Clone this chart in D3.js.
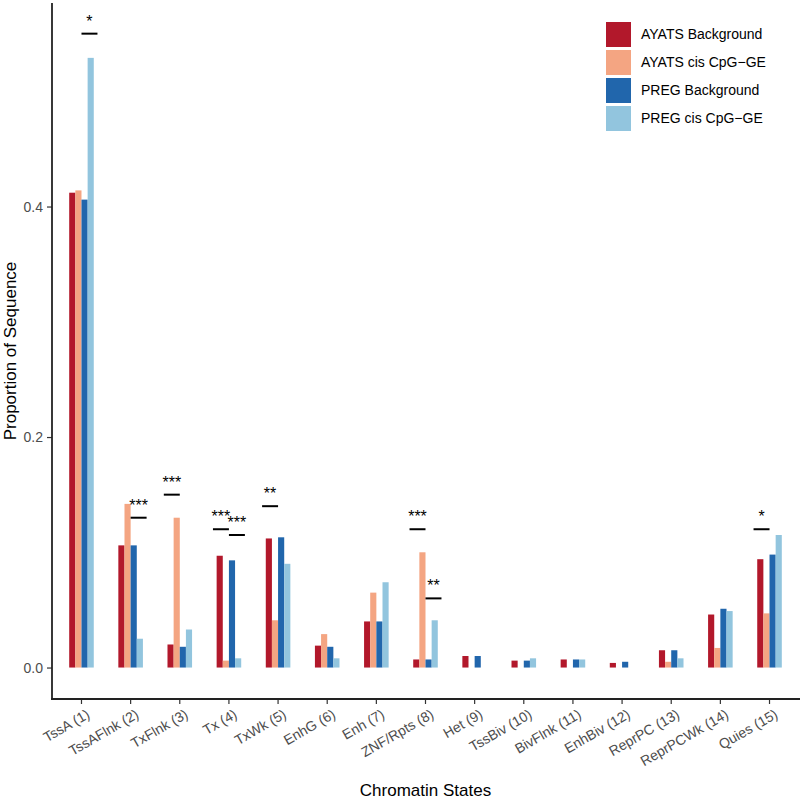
<!DOCTYPE html>
<html>
<head>
<meta charset="utf-8">
<script src="https://cdn.jsdelivr.net/npm/d3@7/dist/d3.min.js"></script>
<style>
  html, body { margin: 0; padding: 0; background: #fff; }
  svg { display: block; font-family: "Liberation Sans", Arial, Helvetica, sans-serif; }
</style>
</head>
<body>
<svg id="chart" width="800" height="800"></svg>
<script>
// ---- data ----
const categories = ["TssA (1)", "TssAFlnk (2)", "TxFlnk (3)", "Tx (4)", "TxWk (5)", "EnhG (6)", "Enh (7)",
  "ZNF/Rpts (8)", "Het (9)", "TssBiv (10)", "BivFlnk (11)", "EnhBiv (12)", "ReprPC (13)", "ReprPCWk (14)", "Quies (15)"];
const seriesNames = ["AYATS Background", "AYATS cis CpG\u2212GE", "PREG Background", "PREG cis CpG\u2212GE"];
const seriesColors = ["#B2182B", "#F4A582", "#2166AC", "#92C5DE"];
const ayatsBackground = [0.412, 0.106, 0.020, 0.097, 0.112, 0.019, 0.040, 0.007, 0.010, 0.006, 0.007, 0.004, 0.015, 0.046, 0.094];
const ayatsCis        = [0.414, 0.142, 0.130, 0.006, 0.041, 0.029, 0.065, 0.100, 0.000, 0.000, 0.000, 0.000, 0.005, 0.017, 0.047];
const pregBackground  = [0.406, 0.106, 0.018, 0.093, 0.113, 0.018, 0.040, 0.007, 0.010, 0.006, 0.007, 0.005, 0.015, 0.051, 0.098];
const pregCis         = [0.529, 0.025, 0.033, 0.008, 0.090, 0.008, 0.074, 0.041, 0.000, 0.008, 0.007, 0.000, 0.008, 0.049, 0.115];
const seriesValues = [ayatsBackground, ayatsCis, pregBackground, pregCis];
const yTicks = [0.0, 0.2, 0.4];
// significance annotations: category, comparison group, y level, label
const sigCategory = ["TssA (1)", "TssAFlnk (2)", "TxFlnk (3)", "Tx (4)", "Tx (4)", "TxWk (5)", "ZNF/Rpts (8)", "ZNF/Rpts (8)", "Quies (15)"];
const sigGroup    = ["PREG", "PREG", "AYATS", "AYATS", "PREG", "AYATS", "AYATS", "PREG", "AYATS"];
const sigLevel    = [0.550, 0.130, 0.150, 0.120, 0.115, 0.140, 0.120, 0.060, 0.120];
const sigLabel    = ["*", "***", "***", "***", "***", "**", "***", "**", "*"];

// ---- layout ----
const svg = d3.select("#chart");
const mLeft = 52, mRight = 799, mTop = 3, mBottom = 699;

const x = d3.scaleBand().domain(categories).range([mLeft, mRight]).paddingInner(0).paddingOuter(0.1);
const y = d3.scaleLinear().domain([-0.0273, 0.5766]).range([mBottom, mTop]);
const dodge = x.bandwidth() * 0.5;
const sub = d3.scaleBand().domain(d3.range(seriesNames.length)).range([-dodge / 2, dodge / 2]);

// bars
const barData = [];
categories.forEach((c, ci) => {
  seriesValues.forEach((vals, si) => {
    if (vals[ci] > 0) barData.push({ c, si, v: vals[ci] });
  });
});
svg.append("g").selectAll("rect").data(barData).join("rect")
  .attr("x", d => x(d.c) + x.bandwidth() / 2 + sub(d.si))
  .attr("width", sub.bandwidth())
  .attr("y", d => y(d.v))
  .attr("height", d => y(0) - y(d.v))
  .attr("fill", d => seriesColors[d.si]);

// significance
const sig = svg.append("g");
sigCategory.forEach((c, i) => {
  const cx = x(c) + x.bandwidth() / 2;
  const half = x.bandwidth() * 0.325;
  const x0 = sigGroup[i] === "AYATS" ? cx - half : cx;
  const x1 = sigGroup[i] === "AYATS" ? cx : cx + half;
  const yy = y(sigLevel[i]);
  sig.append("line").attr("x1", x0).attr("x2", x1).attr("y1", yy).attr("y2", yy)
    .attr("stroke", "#000").attr("stroke-width", 2);
  sig.append("text").attr("x", (x0 + x1) / 2).attr("y", yy - 7)
    .attr("text-anchor", "middle").attr("font-size", 16).attr("fill", "#000")
    .text(sigLabel[i]);
});

// y axis
const yAxis = svg.append("g").attr("transform", `translate(${mLeft},0)`)
  .call(d3.axisLeft(y).tickValues(yTicks).tickFormat(d3.format(".1f")).tickSize(5).tickPadding(4));
yAxis.select(".domain").remove();
yAxis.selectAll(".tick line").attr("stroke", "#333").attr("stroke-width", 1.2);
yAxis.selectAll(".tick text").attr("fill", "#4D4D4D").attr("font-size", 14)
  .style("font-family", "'Liberation Sans', Arial, sans-serif");

// x axis
const xAxis = svg.append("g").attr("transform", `translate(0,${mBottom})`)
  .call(d3.axisBottom(x).tickSize(5).tickPadding(4));
xAxis.select(".domain").remove();
xAxis.selectAll(".tick line").attr("stroke", "#333").attr("stroke-width", 1.2);
xAxis.selectAll(".tick text")
  .attr("fill", "#4D4D4D").attr("font-size", 14)
  .style("font-family", "'Liberation Sans', Arial, sans-serif")
  .attr("text-anchor", "end")
  .attr("x", 4).attr("y", 9).attr("dy", "0.75em")
  .attr("transform", "rotate(-30, 4, 9)");

// axis lines
svg.append("line").attr("x1", mLeft).attr("x2", mLeft).attr("y1", mTop).attr("y2", mBottom + 1)
  .attr("stroke", "#222").attr("stroke-width", 1.8);
svg.append("line").attr("x1", mLeft - 1).attr("x2", mRight + 1).attr("y1", mBottom).attr("y2", mBottom)
  .attr("stroke", "#222").attr("stroke-width", 1.8);

// titles
svg.append("text").attr("transform", `translate(15.5,${(mTop + mBottom) / 2}) rotate(-90)`)
  .attr("text-anchor", "middle").attr("font-size", 17).attr("fill", "#000").text("Proportion of Sequence");
svg.append("text").attr("x", (mLeft + mRight) / 2).attr("y", 796)
  .attr("text-anchor", "middle").attr("font-size", 17).attr("fill", "#000").text("Chromatin States");

// legend
const legend = svg.append("g").attr("transform", "translate(606,22)");
seriesNames.forEach((n, i) => {
  const g = legend.append("g").attr("transform", `translate(0,${i * 28})`);
  g.append("rect").attr("width", 25).attr("height", 25).attr("fill", seriesColors[i]);
  g.append("text").attr("x", 35).attr("y", 12.5).attr("dy", "0.35em")
    .attr("font-size", 14).attr("fill", "#000").text(n);
});
</script>
</body>
</html>
